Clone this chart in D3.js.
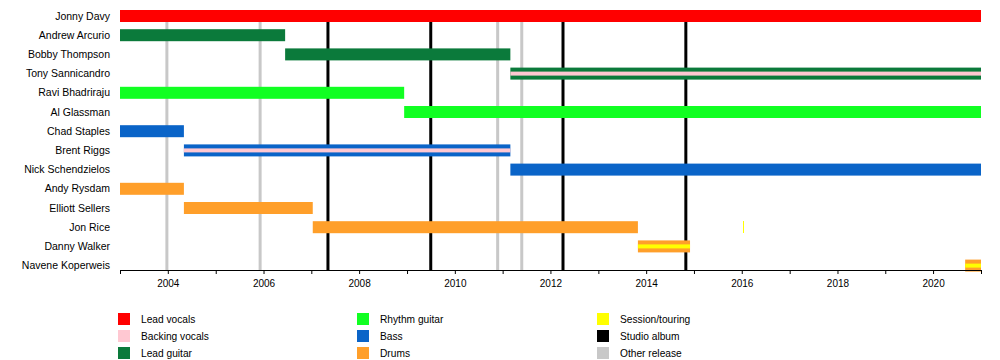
<!DOCTYPE html>
<html>
<head>
<meta charset="utf-8">
<script src="https://cdn.jsdelivr.net/npm/d3@7"></script>
<style>
  html, body { margin: 0; padding: 0; background: #fff; }
  svg { display: block; font-family: "Liberation Sans", Arial, sans-serif; }
</style>
</head>
<body>
<svg id="chart" width="1000" height="360"></svg>
<script>
// ---------------- data ----------------
const members = [
  "Jonny Davy", "Andrew Arcurio", "Bobby Thompson", "Tony Sannicandro",
  "Ravi Bhadriraju", "Al Glassman", "Chad Staples", "Brent Riggs",
  "Nick Schendzielos", "Andy Rysdam", "Elliott Sellers", "Jon Rice",
  "Danny Walker", "Navene Koperweis"
];

const roles = ["Lead vocals", "Backing vocals", "Lead guitar", "Rhythm guitar", "Bass", "Drums", "Session/touring", "Studio album", "Other release"];
const roleColors = ["#ff0000", "#ffc8d2", "#0b7a3b", "#11ff22", "#0a64c8", "#ff9f2a", "#ffff00", "#000000", "#c8c8c8"];

const timelineStart = "2003-01-01";
const timelineEnd = "2021-01-01";

// main tenures: [member, role, from, to]
const tenures = [
  ["Jonny Davy", "Lead vocals", "2003-01-01", "2021-01-01"],
  ["Andrew Arcurio", "Lead guitar", "2003-01-01", "2006-06-15"],
  ["Bobby Thompson", "Lead guitar", "2006-06-15", "2011-03-01"],
  ["Tony Sannicandro", "Lead guitar", "2011-03-01", "2021-01-01"],
  ["Ravi Bhadriraju", "Rhythm guitar", "2003-01-01", "2008-12-10"],
  ["Al Glassman", "Rhythm guitar", "2008-12-10", "2021-01-01"],
  ["Chad Staples", "Bass", "2003-01-01", "2004-05-03"],
  ["Brent Riggs", "Bass", "2004-05-03", "2011-03-01"],
  ["Nick Schendzielos", "Bass", "2011-03-01", "2021-01-01"],
  ["Andy Rysdam", "Drums", "2003-01-01", "2004-05-03"],
  ["Elliott Sellers", "Drums", "2004-05-03", "2007-01-12"],
  ["Jon Rice", "Drums", "2007-01-12", "2013-10-30"],
  ["Jon Rice", "Session/touring", "2016-01-10", "2016-01-18"],
  ["Danny Walker", "Drums", "2013-10-30", "2014-12-02"],
  ["Navene Koperweis", "Drums", "2020-09-02", "2021-01-01"]
];

// secondary stripes: [member, role, from, to]
const stripes = [
  ["Tony Sannicandro", "Backing vocals", "2011-03-01", "2021-01-01"],
  ["Brent Riggs", "Backing vocals", "2004-05-03", "2011-03-01"],
  ["Danny Walker", "Session/touring", "2013-10-30", "2014-12-02"],
  ["Navene Koperweis", "Session/touring", "2020-09-02", "2021-01-01"]
];

const studioAlbums = ["2007-05-08", "2009-07-01", "2012-04-06", "2014-10-31"];
const otherReleases = ["2003-12-25", "2005-12-06", "2010-11-24", "2011-05-27"];

const yearTicks = [2003, 2004, 2005, 2006, 2007, 2008, 2009, 2010, 2011, 2012, 2013, 2014, 2015, 2016, 2017, 2018, 2019, 2020, 2021];
const labelledYears = [2004, 2006, 2008, 2010, 2012, 2014, 2016, 2018, 2020];

// ---------------- drawing ----------------
const parse = d3.utcParse("%Y-%m-%d");
const svg = d3.select("#chart");
const color = d3.scaleOrdinal().domain(roles).range(roleColors);

const x = d3.scaleUtc()
  .domain([parse(timelineStart), parse(timelineEnd)])
  .range([120, 981]);

const rowStep = 19.2;
const y = d3.scalePoint()
  .domain(members)
  .range([16, 16 + rowStep * (members.length - 1)]);

const barH = 12;
const stripeH = 4;
const axisY = 270;
const plotTop = 10;

// release lines (under bars)
svg.append("g").selectAll("line.other")
  .data(otherReleases).join("line")
  .attr("x1", d => x(parse(d))).attr("x2", d => x(parse(d)))
  .attr("y1", plotTop).attr("y2", axisY)
  .attr("stroke", color("Other release")).attr("stroke-width", 3);

svg.append("g").selectAll("line.album")
  .data(studioAlbums).join("line")
  .attr("x1", d => x(parse(d))).attr("x2", d => x(parse(d)))
  .attr("y1", plotTop).attr("y2", axisY)
  .attr("stroke", color("Studio album")).attr("stroke-width", 3);

// bars
svg.append("g").selectAll("rect")
  .data(tenures).join("rect")
  .attr("x", d => x(parse(d[2])))
  .attr("width", d => Math.max(1, x(parse(d[3])) - x(parse(d[2]))))
  .attr("y", d => y(d[0]) - barH / 2)
  .attr("height", barH)
  .attr("shape-rendering", d => (x(parse(d[3])) - x(parse(d[2]))) < 2 ? "crispEdges" : null)
  .attr("fill", d => color(d[1]));

svg.append("g").selectAll("rect")
  .data(stripes).join("rect")
  .attr("x", d => x(parse(d[2])))
  .attr("width", d => x(parse(d[3])) - x(parse(d[2])))
  .attr("y", d => y(d[0]) - stripeH / 2)
  .attr("height", stripeH)
  .attr("fill", d => color(d[1]));

// member labels
svg.append("g").selectAll("text")
  .data(members).join("text")
  .attr("x", 110)
  .attr("y", d => y(d))
  .attr("dy", "0.35em")
  .attr("text-anchor", "end")
  .attr("font-size", "10.5px")
  .attr("fill", "#000")
  .text(d => d);

// axis
const axis = d3.axisBottom(x)
  .tickValues(yearTicks.map(yr => new Date(Date.UTC(yr, 0, 1))))
  .tickSize(4)
  .tickSizeOuter(0)
  .tickPadding(6)
  .tickFormat(d => labelledYears.includes(d.getUTCFullYear()) ? String(d.getUTCFullYear()) : "");

const gAxis = svg.append("g")
  .attr("transform", `translate(0,${axisY})`)
  .call(axis);
gAxis.select(".domain").attr("stroke", "#000").attr("stroke-width", 1);
gAxis.selectAll(".tick line").attr("stroke", "#000");
gAxis.selectAll("text")
  .attr("font-size", "10px")
  .attr("font-family", "\"Liberation Sans\", Arial, sans-serif")
  .attr("fill", "#000");

// legend
const legendCols = [118, 357, 597];
const legendRowTop = 313;
const legendRowStep = 17;
const leg = svg.append("g").selectAll("g")
  .data(roles).join("g")
  .attr("transform", (d, i) => `translate(${legendCols[Math.floor(i / 3)]},${legendRowTop + (i % 3) * legendRowStep})`);
leg.append("rect")
  .attr("width", 12).attr("height", 12)
  .attr("fill", d => color(d));
leg.append("text")
  .attr("x", 23).attr("y", 6)
  .attr("dy", "0.35em")
  .attr("font-size", "10.2px")
  .attr("fill", "#000")
  .text(d => d);
</script>
</body>
</html>
